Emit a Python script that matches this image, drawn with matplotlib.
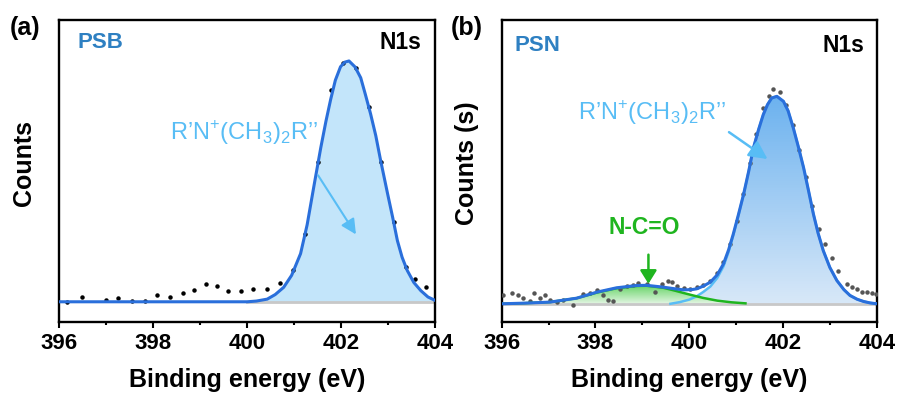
import numpy as np
import matplotlib
matplotlib.use("Agg")
from matplotlib import pyplot as plt
from matplotlib.patches import PathPatch
from matplotlib.colors import LinearSegmentedColormap

plt.rcParams['font.family'] = ['Liberation Sans', 'DejaVu Sans']
plt.rcParams['font.weight'] = 'bold'
plt.rcParams['mathtext.fontset'] = 'custom'
plt.rcParams['mathtext.rm'] = 'Liberation Sans'

# ---- panel (a) PSB, N1s ----
a_raw_x = [396.16, 396.48, 397.0, 397.26, 397.55, 397.83, 398.08, 398.36, 398.64, 398.87,
           399.13, 399.36, 399.6, 399.87, 400.13, 400.42, 400.7, 400.97, 401.24, 401.51,
           401.78, 402.05, 402.32, 402.59, 402.86, 403.13, 403.38, 403.57, 403.8]
a_raw_y = [0.0, 0.02, 0.007, 0.015, 0.004, 0.004, 0.03, 0.018, 0.035, 0.049,
           0.072, 0.065, 0.043, 0.046, 0.053, 0.053, 0.076, 0.13, 0.28, 0.58,
           0.88, 0.99, 0.97, 0.81, 0.58, 0.33, 0.143, 0.095, 0.063]

a_fit_x = [396.0, 400.0, 400.2, 400.43, 400.6, 400.78, 400.95, 401.14, 401.28, 401.42,
           401.57, 401.68, 401.78, 401.88, 401.99, 402.08, 402.17, 402.3, 402.42, 402.52,
           402.63, 402.74, 402.84, 402.99, 403.1, 403.2, 403.3, 403.41, 403.55, 403.7,
           403.85, 404.0]
a_fit_y = [0.0, 0.0, 0.003, 0.011, 0.03, 0.06, 0.11, 0.2, 0.32, 0.476,
           0.64, 0.75, 0.84, 0.92, 0.976, 0.995, 1.0, 0.975, 0.93, 0.86,
           0.78, 0.69, 0.59, 0.45, 0.35, 0.254, 0.185, 0.13, 0.08, 0.046,
           0.02, 0.006]

# ---- panel (b) PSN, N1s ----
b_raw_x = [396.03, 396.21, 396.35, 396.46, 396.6, 396.69, 396.82, 396.92, 397.03, 397.17,
           397.31, 397.53, 397.74, 397.88, 398.03, 398.17, 398.27, 398.37, 398.52, 398.67,
           398.8, 398.91, 399.09, 399.27, 399.41, 399.55, 399.63, 399.75, 399.88, 400.02,
           400.16, 400.3, 400.45, 400.59, 400.73, 400.87, 401.01, 401.15, 401.29, 401.43,
           401.58, 401.7, 401.78, 401.94, 402.07, 402.21, 402.35, 402.49, 402.63, 402.77,
           402.9, 403.04, 403.18, 403.36, 403.47, 403.57, 403.68, 403.79, 403.89, 403.98]
b_raw_y = [0.043, 0.051, 0.04, 0.029, 0.013, 0.051, 0.027, 0.04, 0.016, 0.01,
           0.016, -0.008, 0.048, 0.051, 0.067, 0.04, 0.016, 0.013, 0.07, 0.088,
           0.092, 0.099, 0.096, 0.056, 0.095, 0.112, 0.104, 0.085, 0.075, 0.072,
           0.08, 0.09, 0.11, 0.15, 0.2, 0.29, 0.4, 0.53, 0.68, 0.82,
           0.944, 1.0, 1.037, 1.02, 0.96, 0.86, 0.74, 0.61, 0.47, 0.36,
           0.29, 0.22, 0.16, 0.096, 0.083, 0.072, 0.056, 0.056, 0.051, 0.045]

b_fit_x = [396.0, 396.5, 397.03, 397.6, 398.03, 398.45, 398.88, 399.09, 399.45, 399.7,
           399.88, 400.05, 400.16, 400.3, 400.45, 400.6, 400.73, 400.84, 400.94, 401.05,
           401.16, 401.27, 401.37, 401.48, 401.58, 401.67, 401.76, 401.87, 402.01, 402.11,
           402.22, 402.33, 402.44, 402.55, 402.65, 402.75, 402.86, 403.0, 403.15, 403.3,
           403.43, 403.58, 403.72, 403.86, 404.0]
b_fit_y = [0.0, 0.003, 0.008, 0.027, 0.056, 0.077, 0.088, 0.089, 0.08, 0.072,
           0.067, 0.068, 0.072, 0.085, 0.104, 0.14, 0.192, 0.26, 0.336, 0.43,
           0.528, 0.64, 0.752, 0.84, 0.912, 0.96, 0.992, 1.0, 0.976, 0.93,
           0.848, 0.755, 0.656, 0.54, 0.432, 0.34, 0.256, 0.175, 0.112, 0.068,
           0.04, 0.022, 0.011, 0.004, 0.0]

b_nco_x = [396.0, 396.5, 397.03, 397.6, 398.03, 398.45, 398.88, 399.09, 399.45, 399.7,
           399.88, 400.05, 400.3, 400.6, 400.9, 401.2]
b_nco_y = [0.0, 0.003, 0.008, 0.027, 0.054, 0.075, 0.086, 0.087, 0.077, 0.063,
           0.052, 0.042, 0.028, 0.015, 0.007, 0.002]

b_main_x = [399.6, 399.8, 400.0, 400.16, 400.3, 400.45, 400.6, 400.73, 400.84, 400.94,
            401.05, 401.16, 401.27, 401.37, 401.48, 401.58, 401.67, 401.76, 401.87, 402.01,
            402.11, 402.22, 402.33, 402.44, 402.55, 402.65, 402.75, 402.86, 403.0, 403.15,
            403.3, 403.43, 403.58, 403.72, 403.86, 404.0]
b_main_y = [0.0, 0.008, 0.02, 0.036, 0.057, 0.083, 0.125, 0.18, 0.25, 0.33,
            0.426, 0.526, 0.639, 0.751, 0.84, 0.912, 0.96, 0.992, 1.0, 0.976,
            0.93, 0.848, 0.755, 0.656, 0.54, 0.432, 0.34, 0.256, 0.175, 0.112,
            0.068, 0.04, 0.022, 0.011, 0.004, 0.0]

xticks = [396, 398, 400, 402, 404]

env_col = '#2a6fdb'
lab_col = '#58bdf5'
tag_col = '#2e80c2'
green = '#1fb51f'


def grad_fill(ax, x, y, c_top, c_bot):
    poly = ax.fill_between(x, y, 0, facecolor='none', edgecolor='none')
    patch = PathPatch(poly.get_paths()[0], facecolor='none', edgecolor='none',
                      transform=ax.transData)
    ax.add_patch(patch)
    cmap = LinearSegmentedColormap.from_list('g', [c_bot, c_top])
    grad = np.linspace(0, 1, 256).reshape(-1, 1)
    im = ax.imshow(grad, extent=[min(x), max(x), 0, max(y)], origin='lower',
                   aspect='auto', cmap=cmap, zorder=1)
    im.set_clip_path(patch)


def style(ax, ylab, ylim):
    ax.set_xlim(396, 404)
    ax.set_ylim(*ylim)
    ax.set_xticks(xticks)
    ax.set_xticks([397, 399, 401, 403], minor=True)
    ax.set_yticks([])
    ax.tick_params(axis='x', which='major', length=4, width=1.5, labelsize=16, pad=4)
    ax.tick_params(axis='x', which='minor', length=2.5, width=1.5)
    for s in ax.spines.values():
        s.set_linewidth(1.7)
    ax.set_xlabel('Binding energy (eV)', fontsize=18, fontweight='bold', labelpad=10)
    ax.set_ylabel(ylab, fontsize=18, fontweight='bold', va='center')
    ax.yaxis.set_label_coords(-0.093, 0.526)


ion = r"R’N$^{\mathregular{+}}$(CH$_{\mathregular{3}}$)$_{\mathregular{2}}$R’’"

fig = plt.figure(figsize=(8.98, 3.94), dpi=100)
ax1 = fig.add_axes([0.0657, 0.1827, 0.4187, 0.7665])
ax2 = fig.add_axes([0.5587, 0.1827, 0.4176, 0.7665])

# (a)
ax1.fill_between(a_fit_x, a_fit_y, 0, color='#c3e5fa', lw=0, zorder=1)
ax1.plot([400, 404], [0, 0], color='#c8c8c8', lw=2, zorder=2)
ax1.plot(a_raw_x, a_raw_y, 'o', color='k', ms=2.2, zorder=3)
ax1.plot(a_fit_x, a_fit_y, color=env_col, lw=2.2, zorder=4)
ax1.text(0.048, 0.925, 'PSB', transform=ax1.transAxes, color=tag_col, fontsize=16,
         fontweight='bold', va='center')
ax1.text(0.963, 0.925, 'N1s', transform=ax1.transAxes, color='k', fontsize=16.5,
         fontweight='bold', va='center', ha='right')
ax1.text(0.295, 0.626, ion, transform=ax1.transAxes, color=lab_col, fontsize=17,
         fontweight='normal', va='center')
ax1.annotate('', xy=(402.35, 0.27), xytext=(401.48, 0.535),
             arrowprops=dict(arrowstyle='-|>,head_length=0.9,head_width=0.45',
                             color=lab_col, lw=1.5), zorder=5)
style(ax1, 'Counts', (-0.084, 1.17))

# (b)
grad_fill(ax2, b_main_x, b_main_y, '#6cb2ef', '#d8e8f8')
grad_fill(ax2, b_nco_x, b_nco_y, '#66d466', '#e4f6e4')
ax2.plot([396, 404], [0, 0], color='#c8c8c8', lw=2, zorder=2)
ax2.plot(b_raw_x, b_raw_y, 'o', color='#555555', ms=2.2, zorder=3)
ax2.plot(b_main_x, b_main_y, color=lab_col, lw=1.8, zorder=3)
ax2.plot(b_nco_x, b_nco_y, color=green, lw=1.8, zorder=3)
ax2.plot(b_fit_x, b_fit_y, color=env_col, lw=2.2, zorder=4)
ax2.text(0.033, 0.915, 'PSN', transform=ax2.transAxes, color=tag_col, fontsize=16,
         fontweight='bold', va='center')
ax2.text(0.966, 0.915, 'N1s', transform=ax2.transAxes, color='k', fontsize=16.5,
         fontweight='bold', va='center', ha='right')
ax2.text(0.203, 0.692, ion, transform=ax2.transAxes, color=lab_col, fontsize=17,
         fontweight='normal', va='center')
ax2.annotate('', xy=(401.72, 0.69), xytext=(400.8, 0.835),
             arrowprops=dict(arrowstyle='-|>,head_length=1.1,head_width=0.55',
                             color=lab_col, lw=1.8), zorder=5)
ax2.text(399.04, 0.366, 'N-C=O', color=green, fontsize=16.5, fontweight='bold',
         ha='center', va='center')
ax2.annotate('', xy=(399.13, 0.083), xytext=(399.13, 0.25),
             arrowprops=dict(arrowstyle='-|>,head_length=0.8,head_width=0.5',
                             color=green, lw=1.8), zorder=5)
style(ax2, 'Counts (s)', (-0.088, 1.368))

fig.text(0.011, 0.93, '(a)', fontsize=18, fontweight='bold', va='center')
fig.text(0.502, 0.93, '(b)', fontsize=18, fontweight='bold', va='center')

fig.savefig('out.png', dpi=100)
